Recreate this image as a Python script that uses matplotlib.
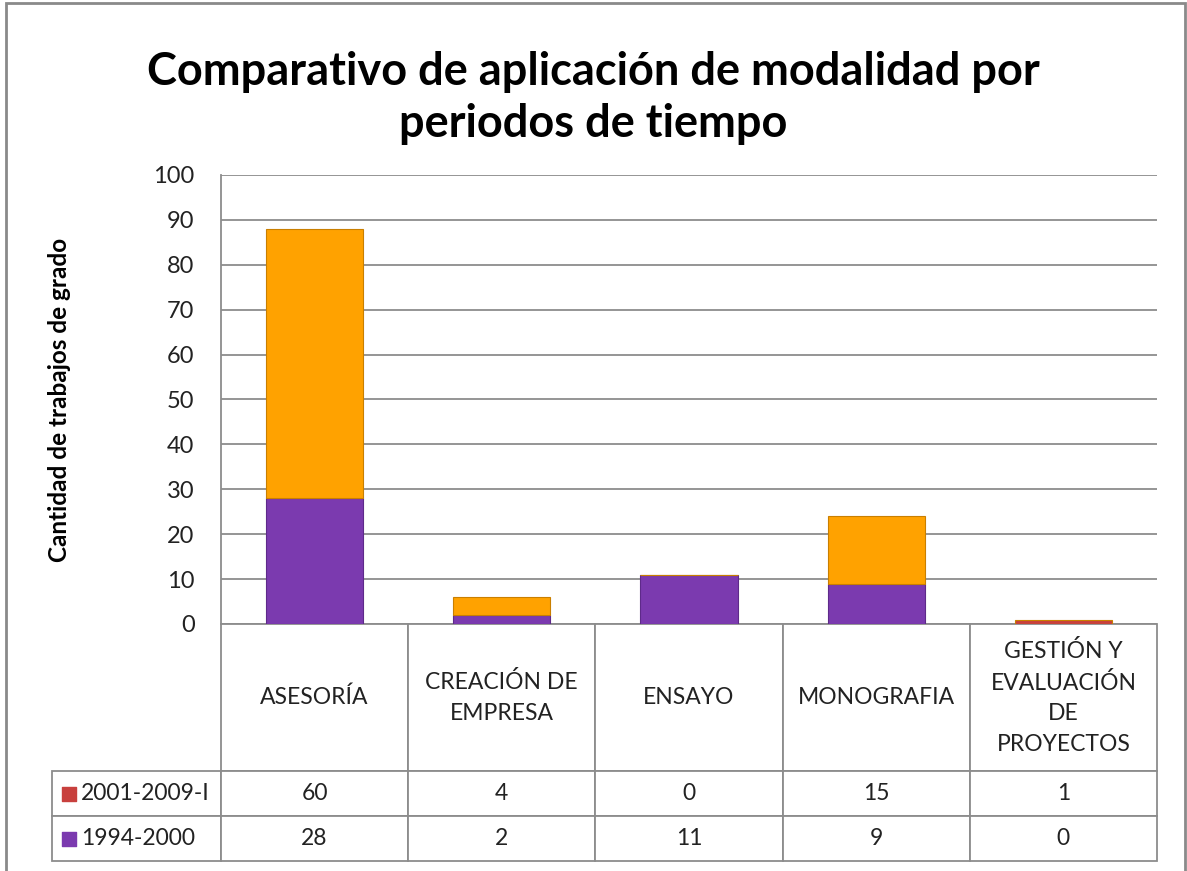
import matplotlib.pyplot as plt
from matplotlib.table import Table
from matplotlib.patches import Rectangle

plt.rcParams['font.family'] = ['Lato', 'DejaVu Sans']

# Data
categories = ['ASESORÍA', 'CREACIÓN DE\nEMPRESA', 'ENSAYO', 'MONOGRAFIA',
              'GESTIÓN Y\nEVALUACIÓN\nDE\nPROYECTOS']
series_names = ['2001-2009-I', '1994-2000']
p1994 = [28, 2, 11, 9, 0]
p2001 = [60, 4, 0, 15, 1]
yticks = list(range(0, 101, 10))

purple = '#7B3AAF'
red = '#C8403D'
orange_cols = ['#FFA200', '#FFA200', '#FFA200', '#FFA200', red]
grid_col = '#8c8c8c'

fig = plt.figure(figsize=(11.87, 8.71), dpi=100)
W, H = 1187, 871
ax = fig.add_axes([221 / W, 1 - 624 / H, 936 / W, 449 / H])

x = list(range(len(categories)))
ax.bar(x, p1994, width=0.52, color=purple, edgecolor='#5e2a8a', linewidth=0.8, zorder=3)
ax.bar(x, p2001, width=0.52, bottom=p1994, color=orange_cols, edgecolor='#c97f00',
       linewidth=0.8, zorder=3)

ax.set_xlim(-0.5, len(categories) - 0.5)
ax.set_ylim(0, 100)
ax.set_yticks(yticks)
ax.set_xticks([])
ax.tick_params(axis='y', length=0, pad=19, labelsize=17, colors='#222222')
ax.grid(axis='y', color=grid_col, linewidth=1.3, zorder=0)
for s in ['top', 'right', 'bottom']:
    ax.spines[s].set_visible(False)
ax.spines['left'].set_color(grid_col)
ax.spines['left'].set_linewidth(1.3)

# data table under the chart
hdr_h = 147 / 449
row_h = 45 / 449
col_w = 1 / len(categories)
lab_w = 169 / 936
tab = Table(ax, bbox=[0, -(hdr_h + 2 * row_h), 1, hdr_h + 2 * row_h])
for j, cat in enumerate(categories):
    c = tab.add_cell(0, j, col_w, hdr_h, text=cat, loc='center')
    c.get_text().set_linespacing(1.55)
rows = [p2001, p1994]
for i, (name, vals) in enumerate(zip(series_names, rows)):
    c = tab.add_cell(i + 1, -1, lab_w, row_h, text=name, loc='left')
    c.PAD = 0.17
    for j, v in enumerate(vals):
        tab.add_cell(i + 1, j, col_w, row_h, text=str(v), loc='center')
tab.auto_set_font_size(False)
tab.set_fontsize(16.5)
for cell in tab.get_celld().values():
    cell.set_edgecolor(grid_col)
    cell.set_linewidth(1.3)
    cell.get_text().set_color('#222222')
ax.add_table(tab)

# legend keys inside the row label cells
for i, col in enumerate([red, purple]):
    yc = -(hdr_h + row_h * (i + 0.5))
    ax.scatter([-lab_w + 17 / 936], [yc], marker='s', s=105, color=col,
               transform=ax.transAxes, clip_on=False, zorder=5)

fig.text(0.5, 1 - 98 / H, 'Comparativo de aplicación de modalidad por\nperiodos de tiempo',
         ha='center', va='center', fontsize=32.5, fontweight='bold', linespacing=1.28)
fig.text(60 / W, 1 - 400 / H, 'Cantidad de trabajos de grado', rotation=90,
         ha='center', va='center', fontsize=17.5, fontweight='bold')

fig.add_artist(Rectangle((6 / W, -0.01), 1179 / W, 1.01 - 3 / H, transform=fig.transFigure,
                         fill=False, edgecolor='#8a8a8a', linewidth=2))

fig.savefig('out.png', dpi=100)
